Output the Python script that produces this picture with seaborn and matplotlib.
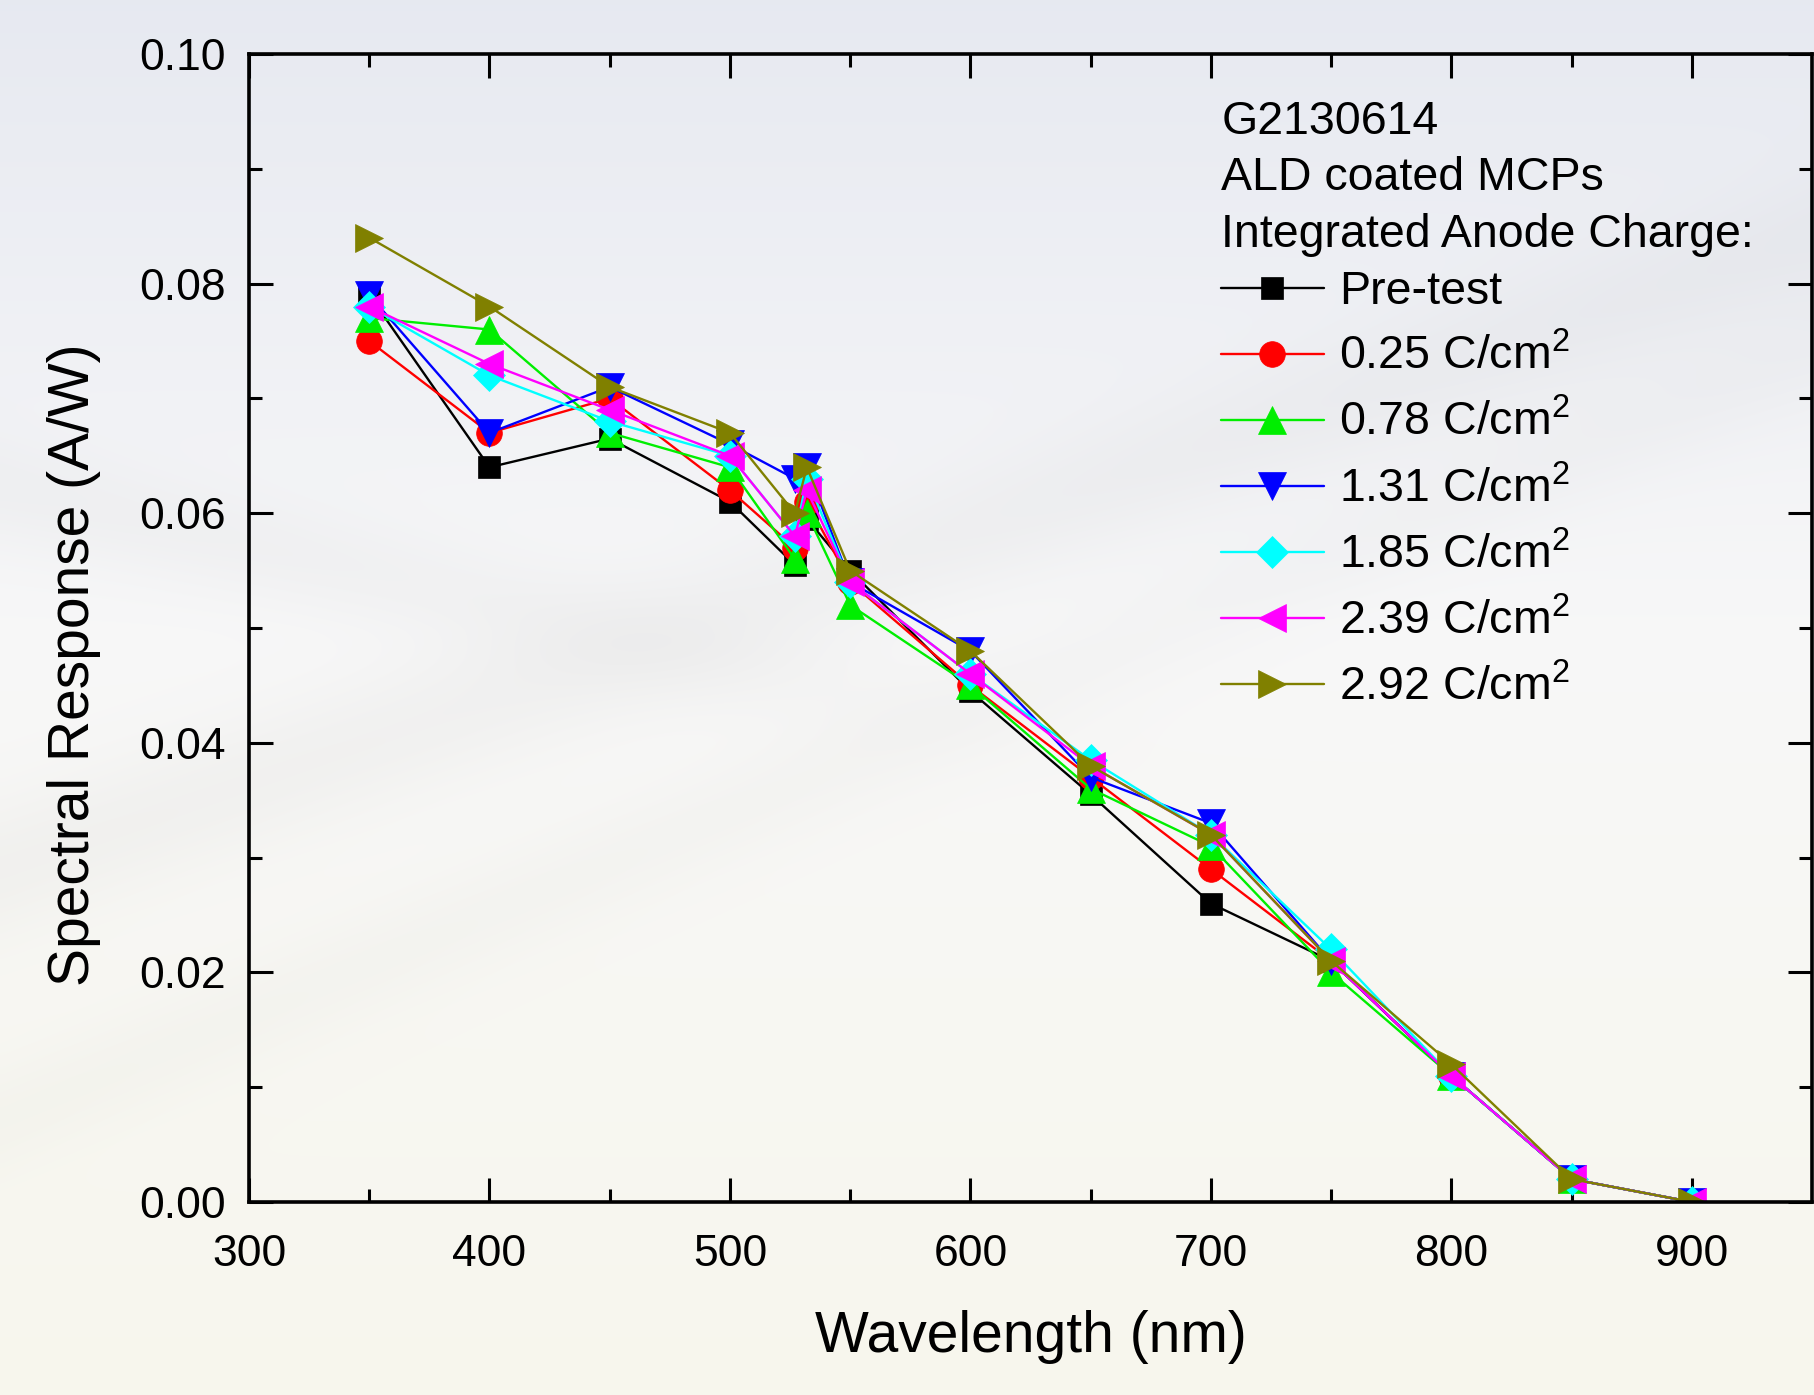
import numpy as np
import pandas as pd
import matplotlib
matplotlib.use("Agg")
import matplotlib.pyplot as plt
import seaborn as sns

# Spectral response of ALD coated MCPs after successive integrated anode charge
wavelength = [350, 400, 450, 500, 527, 532, 550, 600, 650, 700, 750, 800, 850, 900]
pre_test = [0.079, 0.064, 0.0665, 0.061, 0.0555, 0.0595, 0.055, 0.0445, 0.0355, 0.026, 0.021, 0.011, 0.002, 0.000]
charge_025 = [0.075, 0.067, 0.070, 0.062, 0.057, 0.061, 0.054, 0.045, 0.037, 0.029, 0.021, 0.011, 0.002, 0.000]
charge_078 = [0.077, 0.076, 0.067, 0.064, 0.056, 0.060, 0.052, 0.045, 0.036, 0.031, 0.020, 0.011, 0.002, 0.000]
charge_131 = [0.079, 0.067, 0.071, 0.066, 0.063, 0.064, 0.054, 0.048, 0.037, 0.033, 0.021, 0.011, 0.002, 0.000]
charge_185 = [0.078, 0.072, 0.068, 0.065, 0.058, 0.063, 0.054, 0.046, 0.0385, 0.032, 0.022, 0.011, 0.002, 0.000]
charge_239 = [0.078, 0.073, 0.069, 0.065, 0.058, 0.062, 0.054, 0.046, 0.038, 0.032, 0.021, 0.011, 0.002, 0.000]
charge_292 = [0.084, 0.078, 0.071, 0.067, 0.060, 0.064, 0.055, 0.048, 0.038, 0.032, 0.021, 0.012, 0.002, 0.000]

series_labels = ["Pre-test", "0.25 C/cm$^{2}$", "0.78 C/cm$^{2}$", "1.31 C/cm$^{2}$",
                 "1.85 C/cm$^{2}$", "2.39 C/cm$^{2}$", "2.92 C/cm$^{2}$"]
series_values = [pre_test, charge_025, charge_078, charge_131, charge_185, charge_239, charge_292]
series_colors = ["#000000", "#ff0000", "#00ee00", "#0000ff", "#00ffff", "#ff00ff", "#808000"]
series_markers = ["s", "o", "^", "v", "D", "<", ">"]
series_msizes = [16, 18.5, 20, 20, 16, 20, 20]

legend_heading = "G2130614\nALD coated MCPs\nIntegrated Anode Charge:"
x_ticks = [300, 400, 500, 600, 700, 800, 900]
y_ticks = [0.00, 0.02, 0.04, 0.06, 0.08, 0.10]

rows = []
for lab, vals in zip(series_labels, series_values):
    for w, v in zip(wavelength, vals):
        rows.append({"Wavelength": w, "Response": v, "Series": lab})
df = pd.DataFrame(rows)

sns.set_theme(style="ticks")
plt.rcParams["font.family"] = ["Liberation Sans", "DejaVu Sans"]
plt.rcParams["mathtext.default"] = "regular"
for key in ["text.color", "axes.labelcolor", "xtick.color", "ytick.color", "axes.edgecolor"]:
    plt.rcParams[key] = "black"

fig = plt.figure(figsize=(18.15, 13.95), dpi=100)

# soft photographic backdrop
bg = fig.add_axes([0, 0, 1, 1], zorder=-10)
H, W = 280, 364
yy, xx = np.mgrid[0:H, 0:W] / np.array([H, W])[:, None, None]
top = np.array([0.905, 0.915, 0.945])
mid = np.array([0.970, 0.970, 0.972])
bot = np.array([0.972, 0.968, 0.930])
t = yy[..., None]
img = np.where(t < 0.45, top + (mid - top) * (t / 0.45), mid + (bot - mid) * ((t - 0.45) / 0.55))
band1 = np.exp(-((yy - (0.62 - 0.45 * xx)) / 0.05) ** 2)
fade = 1.0 / (1.0 + np.exp((xx - 0.45) / 0.06))
band2 = np.exp(-((yy - (0.35 + 0.30 * xx)) / 0.04) ** 2) * fade
band3 = np.exp(-((yy - (0.80 - 0.55 * xx)) / 0.04) ** 2)
img = img - 0.025 * band1[..., None] - 0.02 * band2[..., None] - 0.015 * band3[..., None]
bg.imshow(np.clip(img, 0, 1), aspect="auto", interpolation="bicubic", extent=[0, 1, 0, 1])
bg.set_axis_off()

ax = fig.add_axes([249 / 1815, 1 - 1202 / 1395, (1812 - 249) / 1815, (1202 - 54) / 1395])
ax.set_facecolor("none")

for lab, col, mk, ms in zip(series_labels, series_colors, series_markers, series_msizes):
    sub = df[df["Series"] == lab]
    sns.lineplot(data=sub, x="Wavelength", y="Response", ax=ax, color=col, marker=mk,
                 markersize=ms, markeredgewidth=0.5, markeredgecolor=col,
                 linewidth=1.7, label=lab, sort=False)

ax.set_xlim(300, 950)
ax.set_ylim(0, 0.10)
ax.set_xticks(x_ticks)
ax.set_yticks(y_ticks)
ax.set_xticklabels([str(v) for v in x_ticks])
ax.set_yticklabels([f"{v:.2f}" for v in y_ticks])
ax.set_xticks(np.arange(350, 950, 100), minor=True)
ax.set_yticks(np.arange(0.01, 0.10, 0.02), minor=True)

for s in ax.spines.values():
    s.set_linewidth(2.6)
    s.set_color("black")
    s.set_visible(True)
ax.tick_params(which="both", direction="in", top=True, right=True, width=2.2, colors="black")
ax.tick_params(which="major", length=17, labelsize=32)
ax.tick_params(which="minor", length=9.5)
ax.tick_params(axis="x", which="major", pad=23)
ax.tick_params(axis="y", which="major", pad=17)

ax.set_xlabel("Wavelength (nm)", fontsize=41, va="center")
ax.xaxis.set_label_coords(0.5, -0.1176)
ax.set_ylabel("Spectral Response (A/W)", fontsize=41, va="center")
ax.yaxis.set_label_coords(-0.112, 0.468)

# legend heading and series entries
ax.text(0.622, 0.9603, legend_heading, transform=ax.transAxes, fontsize=33.5,
        ha="left", va="top", linespacing=1.38)
leg = ax.legend(frameon=False, fontsize=33.5, loc="upper left",
                bbox_to_anchor=(0.622, 0.812), borderpad=0,
                handlelength=2.2, handletextpad=0.33, labelspacing=0.45, borderaxespad=0)

fig.savefig("out.png", dpi=100)
